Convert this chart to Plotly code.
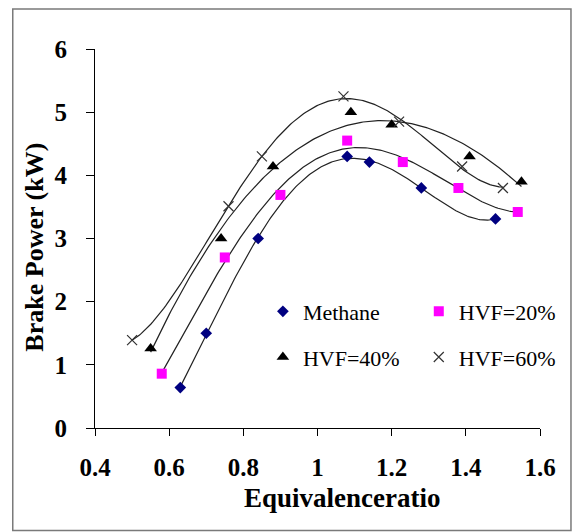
import numpy as np
import plotly.graph_objects as go

# ---- data ----
methane_x = [0.63, 0.70, 0.84, 1.08, 1.14, 1.28, 1.48]
methane_y = [0.64, 1.50, 3.00, 4.30, 4.21, 3.80, 3.31]

hvf20_x = [0.58, 0.75, 0.90, 1.08, 1.23, 1.38, 1.54]
hvf20_y = [0.86, 2.70, 3.69, 4.55, 4.21, 3.80, 3.42]

hvf40_x = [0.55, 0.74, 0.88, 1.09, 1.20, 1.41, 1.55]
hvf40_y = [1.26, 3.00, 4.14, 5.00, 4.80, 4.30, 3.90]

hvf60_x = [0.50, 0.76, 0.85, 1.07, 1.22, 1.39, 1.50]
hvf60_y = [1.39, 3.51, 4.30, 5.25, 4.85, 4.14, 3.80]

series_names = ["Methane", "HVF=20%", "HVF=40%", "HVF=60%"]
x_ticks = [0.4, 0.6, 0.8, 1.0, 1.2, 1.4, 1.6]
y_ticks = [0, 1, 2, 3, 4, 5, 6]

W, H = 576, 532
ML, MR, MT, MB = 95, 35.7, 49.3, 103.5
PW, PH = W - ML - MR, H - MT - MB
SERIF = '"Liberation Serif", "Times New Roman", Times, serif'

def px_x(p):
    return (p - ML) / PW

def px_y(p):
    return 1 - (p - MT) / PH

series = [
    (methane_x, methane_y, dict(symbol="diamond", size=9, color="#000080"), "legend", 4),
    (hvf20_x, hvf20_y, dict(symbol="square", size=10, color="#FF00FF"), "legend2", 4),
    (hvf40_x, hvf40_y, dict(symbol="triangle-up", size=11, color="#000000"), "legend", 3),
    (hvf60_x, hvf60_y, dict(symbol="x-thin", size=10, color="#333333",
                            line=dict(width=1.2, color="#333333")), "legend2", 4),
]

fig = go.Figure()
# trendlines (polynomial fits of each series)
for (xs, ys, mk, lg, deg) in series:
    coef = np.polyfit(xs, ys, deg)
    xx = np.linspace(min(xs), max(xs), 200)
    fig.add_trace(go.Scatter(x=xx, y=np.polyval(coef, xx), mode="lines",
                             line=dict(color="#222222", width=1.2),
                             showlegend=False, hoverinfo="skip"))
for name, (xs, ys, mk, lg, deg) in zip(series_names, series):
    fig.add_trace(go.Scatter(x=xs, y=ys, mode="markers", name=name, marker=mk,
                             legend=lg, legendgroup=name))

tickfont = dict(family=SERIF, size=25, color="black", weight="bold")
fig.update_xaxes(range=[0.4, 1.6], tickvals=x_ticks, ticktext=["0.4", "0.6", "0.8", "1", "1.2", "1.4", "1.6"],
                 showline=True, linecolor="black", linewidth=1, ticks="outside", ticklen=7,
                 tickcolor="black", showgrid=False, zeroline=False, tickfont=tickfont,
                 ticklabelstandoff=10)
fig.update_yaxes(range=[0, 6], tickvals=y_ticks, showline=True, linecolor="black", linewidth=1,
                 ticks="outside", ticklen=8, tickcolor="black", showgrid=False, zeroline=False,
                 tickfont=tickfont, ticklabelstandoff=14)

legfont = dict(family=SERIF, size=22, color="black")
fig.update_layout(
    width=W, height=H, margin=dict(l=ML, r=MR, t=MT, b=MB),
    paper_bgcolor="white", plot_bgcolor="white", showlegend=True,
    font=dict(family=SERIF),
    legend=dict(x=px_x(263), y=px_y(291), xanchor="left", yanchor="top",
                bgcolor="rgba(0,0,0,0)", font=legfont, tracegroupgap=14),
    legend2=dict(x=px_x(419), y=px_y(291), xanchor="left", yanchor="top",
                 bgcolor="rgba(0,0,0,0)", font=legfont, tracegroupgap=14),
    annotations=[
        dict(text="Equivalenceratio", x=px_x(343), y=px_y(499), xref="paper", yref="paper",
             xanchor="center", yanchor="middle", showarrow=False,
             font=dict(family=SERIF, size=27, color="black", weight="bold")),
        dict(text="Brake Power (kW)", x=px_x(35), y=px_y(248), xref="paper", yref="paper",
             xanchor="center", yanchor="middle", showarrow=False, textangle=-90,
             font=dict(family=SERIF, size=26, color="black", weight="bold")),
    ],
    shapes=[dict(type="rect", xref="paper", yref="paper",
                 x0=px_x(12.7), x1=px_x(571.3), y0=px_y(531), y1=px_y(9.3),
                 line=dict(color="#7a7a7a", width=1.5), layer="below")],
)

fig.write_html("out.html")
